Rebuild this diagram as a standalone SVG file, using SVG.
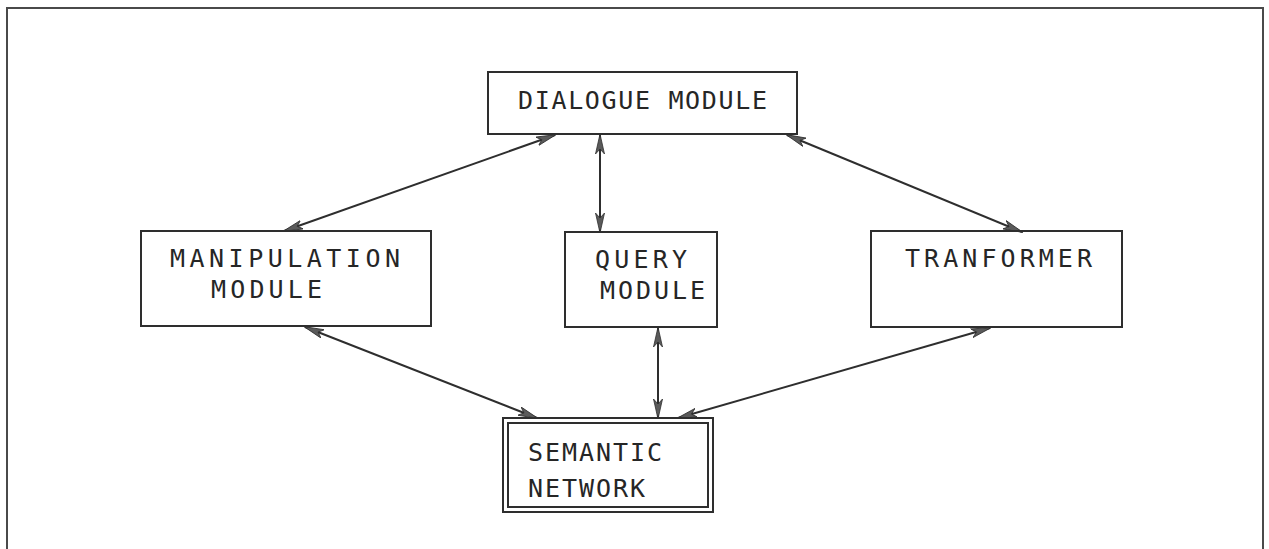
<svg xmlns="http://www.w3.org/2000/svg" width="1269" height="549" viewBox="0 0 1269 549">
  <style>
    .frame { fill: none; stroke: #4a4a4a; stroke-width: 2; }
    .box { fill: none; stroke: #2e2e2e; stroke-width: 2; }
    .label { font-family: "DejaVu Sans Mono", "Liberation Mono", monospace; font-size: 25px; fill: #262626; }
    .link { stroke: #2e2e2e; stroke-width: 2; fill: none; marker-start: url(#tip); marker-end: url(#tip); }
  </style>
  <defs>
    <!-- barbed arrowhead used at both ends of every connector -->
    <marker id="tip" viewBox="0 0 20 10" refX="19" refY="5" markerWidth="20" markerHeight="10" markerUnits="userSpaceOnUse" orient="auto-start-reverse">
      <path d="M0,0.5 L20,5 L0,9.5 L5,5 Z" fill="#5a5a5a" stroke="#2e2e2e" stroke-width="0.8"/>
    </marker>
  </defs>

  <rect width="1269" height="549" fill="#ffffff"/>

  <!-- page frame -->
  <path class="frame" d="M7,549 V8 H1263 V549"/>

  <g id="connectors">
    <line class="link" x1="555" y1="135" x2="284" y2="231"/>
    <line class="link" x1="600" y1="135" x2="600" y2="232"/>
    <line class="link" x1="787" y1="135" x2="1022" y2="232"/>
    <line class="link" x1="305" y1="327" x2="537" y2="418"/>
    <line class="link" x1="658" y1="328" x2="658" y2="418"/>
    <line class="link" x1="990" y1="328" x2="678" y2="418"/>
  </g>

  <g id="dialogue-module">
    <rect class="box" x="488" y="72" width="309" height="62"/>
    <text class="label" x="518" y="109" textLength="249" lengthAdjust="spacing">DIALOGUE MODULE</text>
  </g>

  <g id="manipulation-module">
    <rect class="box" x="141" y="231" width="290" height="95"/>
    <text class="label" x="170" y="267" textLength="230" lengthAdjust="spacing">MANIPULATION</text>
    <text class="label" x="211" y="298" textLength="111" lengthAdjust="spacing">MODULE</text>
  </g>

  <g id="query-module">
    <rect class="box" x="565" y="232" width="152" height="95"/>
    <text class="label" x="595" y="268" textLength="92" lengthAdjust="spacing">QUERY</text>
    <text class="label" x="600" y="299" textLength="105" lengthAdjust="spacing">MODULE</text>
  </g>

  <g id="tranformer">
    <rect class="box" x="871" y="231" width="251" height="96"/>
    <text class="label" x="905" y="267" textLength="187" lengthAdjust="spacing">TRANFORMER</text>
  </g>

  <g id="semantic-network">
    <rect class="box" x="503" y="418" width="210" height="94"/>
    <rect class="box" x="508" y="423" width="200" height="84"/>
    <text class="label" x="528" y="461" textLength="134" lengthAdjust="spacing">SEMANTIC</text>
    <text class="label" x="528" y="497" textLength="117" lengthAdjust="spacing">NETWORK</text>
  </g>
</svg>
